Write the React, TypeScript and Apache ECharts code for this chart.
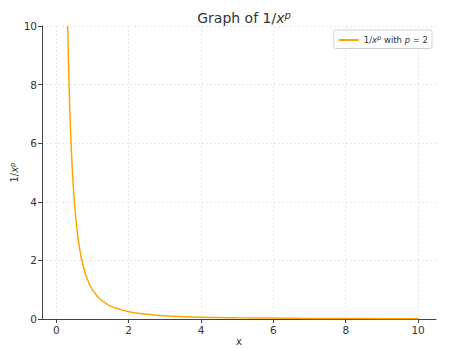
import React, { useEffect, useRef } from "react";
import * as echarts from "echarts";

const xValues = [0.316, 0.32, 0.34, 0.36, 0.38, 0.4, 0.43, 0.46, 0.5, 0.55, 0.6, 0.65, 0.7, 0.8, 0.9, 1.0, 1.1, 1.2, 1.35, 1.5, 1.7, 2.0, 2.3, 2.6, 3.0, 3.5, 4.0, 4.5, 5, 6, 7, 8, 9, 10];
const yValues = [10, 9.77, 8.65, 7.72, 6.93, 6.25, 5.41, 4.73, 4.0, 3.31, 2.78, 2.37, 2.04, 1.56, 1.23, 1.0, 0.83, 0.69, 0.55, 0.44, 0.35, 0.25, 0.19, 0.15, 0.11, 0.08, 0.06, 0.05, 0.04, 0.03, 0.02, 0.016, 0.012, 0.01];
const xTicks = [0, 2, 4, 6, 8, 10];
const yTicks = [0, 2, 4, 6, 8, 10];
const seriesName = "1/x^p with p = 2";

const FONT = "DejaVu Sans";

export default function App() {
  const ref = useRef<HTMLDivElement>(null);
  useEffect(() => {
    if (!ref.current) return;
    const chart = echarts.init(ref.current, undefined, { renderer: "svg" });
    const data = xValues.map((x, i) => [x, yValues[i]]);
    chart.setOption({
      animation: false,
      textStyle: { fontFamily: FONT },
      title: {
        text: "Graph of 1/{i|x}{s|p}",
        left: 239,
        top: 5,
        textAlign: "center",
        textStyle: {
          fontFamily: FONT,
          fontSize: 14,
          fontWeight: "normal",
          color: "#333",
          rich: {
            i: { fontFamily: FONT, fontSize: 14, fontStyle: "italic", color: "#333" },
            s: { fontFamily: FONT, fontSize: 10, fontStyle: "italic", color: "#333", verticalAlign: "top", padding: [0, 0, 6, 0] },
          },
        },
      },
      legend: {
        right: 24,
        top: 30,
        orient: "vertical",
        backgroundColor: "#fff",
        borderColor: "#d0d0d0",
        borderWidth: 1,
        borderRadius: 2,
        padding: [4, 4, 4, 5],
        itemWidth: 20,
        itemHeight: 2,
        itemGap: 5,
        icon: "rect",
        formatter: () => "1/{i|x}{s|p} with {i|p} = 2",
        textStyle: {
          fontFamily: FONT,
          fontSize: 8.5,
          color: "#333",
          rich: {
            i: { fontFamily: FONT, fontSize: 8.5, fontStyle: "italic", color: "#333" },
            s: { fontFamily: FONT, fontSize: 6.5, fontStyle: "italic", color: "#333", verticalAlign: "bottom", padding: [0, 0, 5, 0] },
          },
        },
      },
      grid: { left: 42, right: 20, top: 26, bottom: 30, containLabel: false, outerBoundsMode: "none" },
      xAxis: {
        type: "value",
        min: -0.395,
        max: 10.495,
        name: "x",
        nameLocation: "middle",
        nameGap: 17,
        nameMoveOverlap: false,
        nameTextStyle: { fontFamily: FONT, fontSize: 10, color: "#333" },
        axisLine: { show: true, onZero: false, lineStyle: { color: "#444", width: 1 } },
        axisTick: { show: true, length: 4, lineStyle: { color: "#444" }, customValues: xTicks },
        axisLabel: { fontFamily: FONT, fontSize: 10.5, color: "#333", margin: 5, customValues: xTicks },
        splitLine: { show: true, lineStyle: { color: "#e2e2e2", type: [2, 2], width: 0.8 } },
      },
      yAxis: {
        type: "value",
        min: 0,
        max: 10,
        interval: 2,
        name: "1/{i|x}{s|p}",
        nameLocation: "middle",
        nameGap: 22,
        nameMoveOverlap: false,
        nameTextStyle: {
          fontFamily: FONT,
          fontSize: 10,
          color: "#333",
          rich: {
            i: { fontFamily: FONT, fontSize: 10, fontStyle: "italic", color: "#333" },
            s: { fontFamily: FONT, fontSize: 7, fontStyle: "italic", color: "#333", verticalAlign: "top", padding: [0, 0, 4, 0] },
          },
        },
        axisLine: { show: true, onZero: false, lineStyle: { color: "#444", width: 1 } },
        axisTick: { show: true, length: 4, lineStyle: { color: "#444" } },
        axisLabel: { fontFamily: FONT, fontSize: 10.5, color: "#333", margin: 5, customValues: yTicks },
        splitLine: { show: true, lineStyle: { color: "#e2e2e2", type: [2, 2], width: 0.8 } },
      },
      series: [
        {
          name: seriesName,
          type: "line",
          data,
          showSymbol: false,
          smooth: true,
          clip: true,
          lineStyle: { color: "#FFA500", width: 1.5 },
          itemStyle: { color: "#FFA500" },
        },
      ],
    });
    return () => chart.dispose();
  }, []);
  return <div ref={ref} style={{ width: 456, height: 349, position: "absolute", left: 0, top: 0 }} />;
}
